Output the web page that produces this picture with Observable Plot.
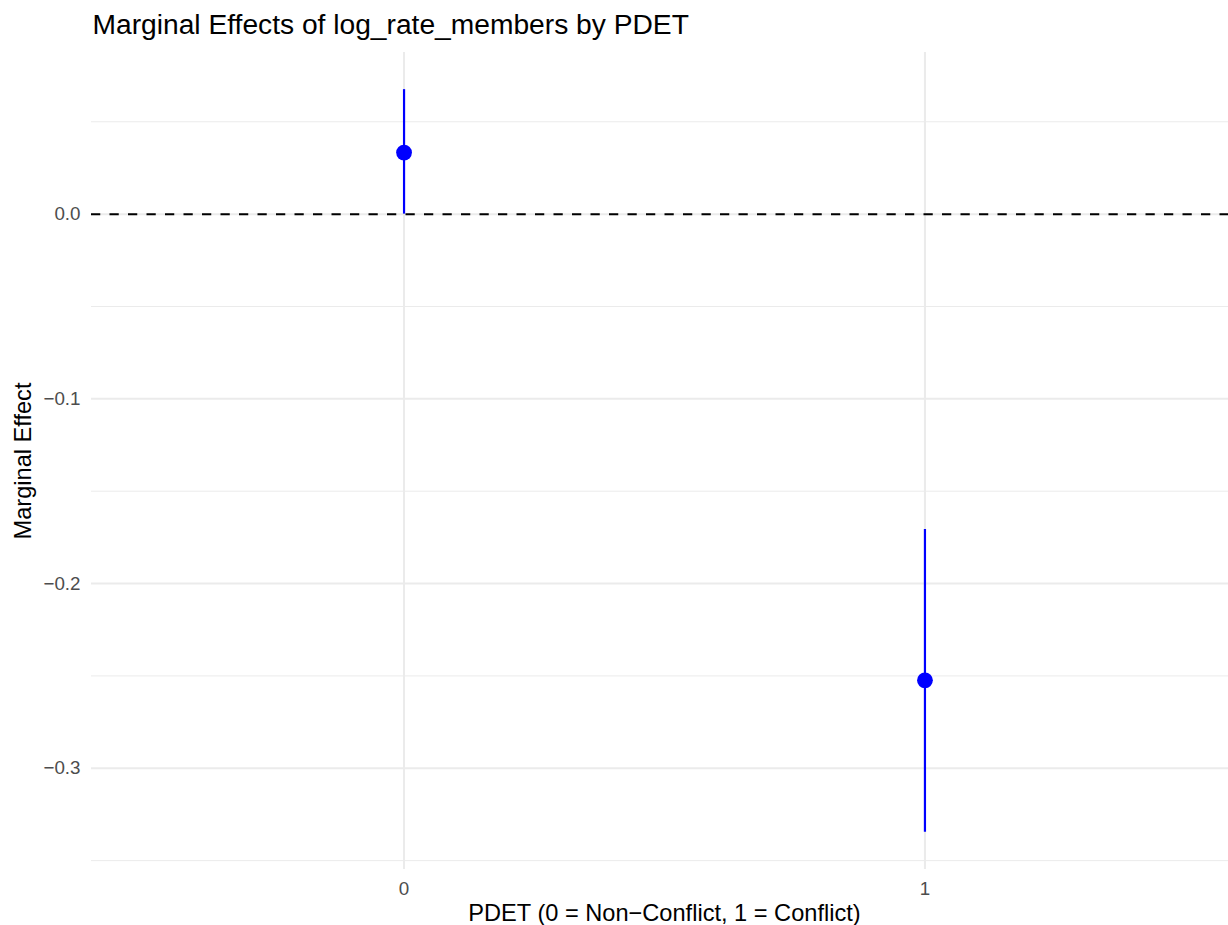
<!DOCTYPE html>
<html>
<head>
<meta charset="utf-8">
<script src="https://cdn.jsdelivr.net/npm/d3@7"></script>
<script src="https://cdn.jsdelivr.net/npm/@observablehq/plot@0.6"></script>
<style>
  html, body { margin: 0; padding: 0; background: #ffffff; }
  #chart { width: 1228px; height: 925px; overflow: hidden; }
</style>
</head>
<body>
<div id="chart"></div>
<script>
// ---- data ----
const pdet = [0, 1];
const estimate = [0.0333, -0.2524];
const lower = [0.0, -0.3347];
const upper = [0.0674, -0.1707];

const xTicks = [0, 1];
const yMajor = [-0.3, -0.2, -0.1, 0.0];
const yMinor = [-0.35, -0.25, -0.15, -0.05, 0.05];
const refLine = [0];

const titleText = ["Marginal Effects of log_rate_members by PDET"];
const xTitle = ["PDET (0 = Non\u2212Conflict, 1 = Conflict)"];
const yTitle = ["Marginal Effect"];

const rows = pdet.map((p, i) => ({pdet: p, est: estimate[i], lo: lower[i], hi: upper[i]}));

const FONT = "'Liberation Sans', Arial, Helvetica, sans-serif";
const GRID = "#EBEBEB";

const chart = Plot.plot({
  width: 1228,
  height: 925,
  marginLeft: 91,
  marginRight: -9,
  marginTop: 52,
  marginBottom: 56,
  style: {fontFamily: FONT, background: "#ffffff", overflow: "hidden"},
  x: {domain: [-0.6, 1.6], axis: null},
  y: {domain: [-0.3548, 0.0875], axis: null},
  marks: [
    // minor grid
    Plot.ruleY(yMinor, {stroke: GRID, strokeWidth: 1}),
    // major grid
    Plot.ruleY(yMajor, {stroke: GRID, strokeWidth: 2}),
    Plot.ruleX(xTicks, {stroke: GRID, strokeWidth: 2}),
    // axes (labels only)
    Plot.axisY(yMajor, {
      tickSize: 0, tickPadding: 11, tickFormat: d3.format(".1f"),
      fill: "#4D4D4D", fontSize: 18.8, label: null
    }),
    Plot.axisX(xTicks, {
      tickSize: 0, tickPadding: 12, tickFormat: d => String(d),
      fill: "#4D4D4D", fontSize: 18.8, label: null
    }),
    // reference line at zero
    Plot.ruleY(refLine, {stroke: "#000000", strokeWidth: 2, strokeDasharray: "9.25,9.25"}),
    // error bars
    Plot.ruleX(rows, {x: "pdet", y1: "lo", y2: "hi", stroke: "#0000FF", strokeWidth: 2.2}),
    // points
    Plot.dot(rows, {x: "pdet", y: "est", r: 7.9, fill: "#0000FF", stroke: null}),
    // titles
    Plot.text(titleText, {
      frameAnchor: "top-left", textAnchor: "start", lineAnchor: "bottom",
      dx: 1, dy: -19, fontSize: 28.2, fill: "#000000"
    }),
    Plot.text(xTitle, {
      frameAnchor: "bottom", lineAnchor: "bottom",
      dy: 51, fontSize: 23.6, fill: "#000000"
    }),
    Plot.text(yTitle, {
      frameAnchor: "left", textAnchor: "middle", lineAnchor: "bottom", rotate: -90,
      dx: -61, fontSize: 23.6, fill: "#000000"
    })
  ]
});

document.getElementById("chart").appendChild(chart);
</script>
</body>
</html>
